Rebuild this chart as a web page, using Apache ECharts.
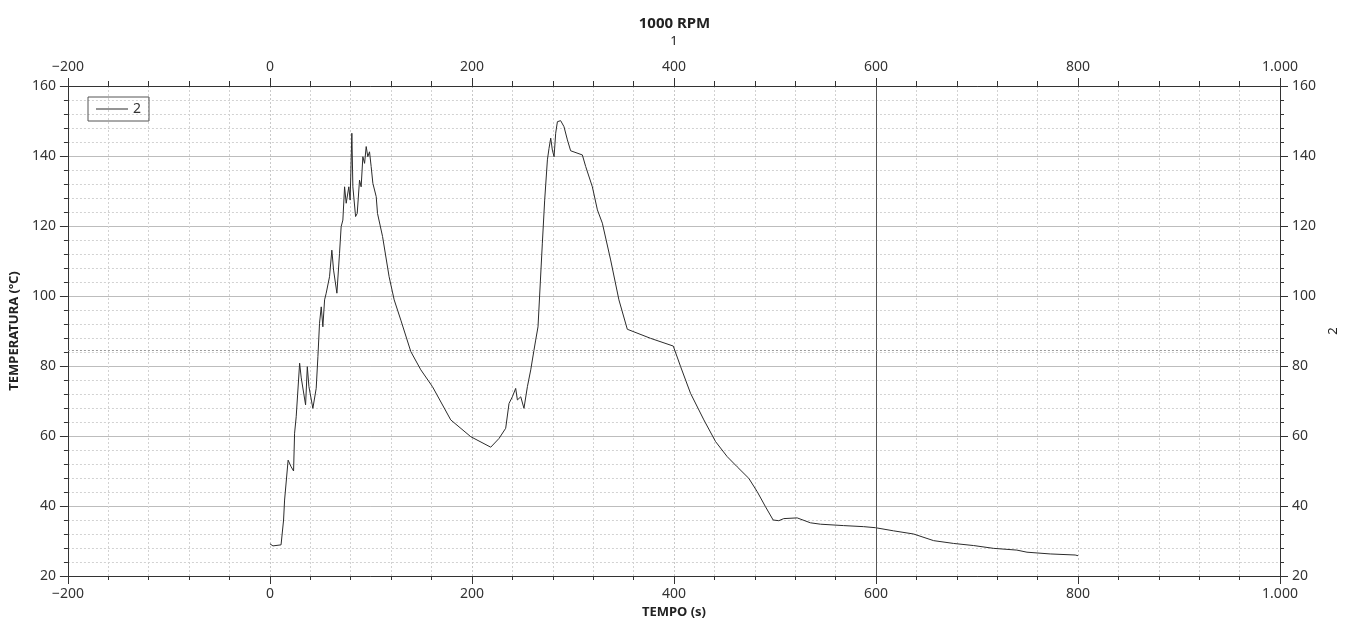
<!DOCTYPE html>
<html>
<head>
<meta charset="utf-8">
<title>1000 RPM</title>
<script src="https://cdn.jsdelivr.net/npm/echarts@6/dist/echarts.min.js"></script>
<style>
  html, body { margin: 0; padding: 0; background: #fff; }
  #main { width: 1349px; height: 627px; }
</style>
</head>
<body>
<div id="main"></div>
<script>
// tempo (s) and temperatura (ºC)
var tempo = [0, 3, 11, 13.5, 14.5, 18, 21, 23.4, 24.4, 26, 29.4, 31, 32.6, 35.3, 37, 38.6, 42.5, 44.2, 45.8, 47.5,
  49.1, 50.8, 52.4, 54.1, 55.7, 59, 61.3, 63, 66.3, 68.9, 70.5, 72.2, 73.9, 75.5, 78.1, 79.4, 81.1, 82.1, 84.8,
  86.4, 88.7, 90.3, 92, 93.7, 95.3, 96.9, 98.6, 100.2, 101.9, 105.2, 106.5, 111.5, 118, 123, 129.6, 139.5, 149.4,
  160.9, 179, 198.8, 218.6, 226.8, 233.4, 236.7, 240, 243.3, 245, 248.3, 251.5, 254.9, 258.2, 261.4, 263.1, 265.4,
  269.7, 272, 274.7, 276.3, 278, 279.6, 281.3, 282.9, 284.6, 287.8, 291.1, 294.5, 297.7, 309.3, 312.6, 319.2,
  324.2, 329.1, 337.3, 345.5, 353.8, 376.9, 399.3, 406.6, 416.4, 429.6, 441.2, 452.7, 462.6, 474.1, 482.4, 490.6,
  498.2, 503.8, 508.7, 522, 535.1, 545, 568, 587.8, 599.4, 617.5, 637.3, 657.1, 676.9, 696.7, 716.4, 739.5, 749.5,
  772.5, 797.2, 800];
var temperatura = [29.2, 28.6, 28.9, 36, 41.7, 53.1, 51.2, 50, 60.8, 65.5, 80.8, 76.6, 77, 68.9, 79.8, 74.1, 67.9, 67.6, 73.6, 82.7,
  92.2, 96.9, 91.2, 98.9, 100.8, 105.5, 113.1, 107.4, 100.8, 112.2, 119.8, 121.7, 131.2, 126.5, 131.2, 127.4, 146.5, 131.2, 122.7,
  123.6, 133.1, 131.2, 139.8, 137.9, 142.7, 139.8, 141.2, 137, 132.2, 128.4, 123.6, 117, 105.5, 98.9, 93.1, 84.1, 78.9,
  74.1, 64.6, 59.8, 56.8, 59.3, 62.2, 69.3, 71.2, 73.6, 70.3, 71.2, 67.9, 74.1, 78.9, 84.5, 87.4, 91.2,
  115.1, 127.4, 138.9, 142.2, 145.1, 141.7, 139.8, 146.5, 149.8, 150.1, 148.4, 144.6, 141.5, 140.3, 137, 131.2,
  124.6, 120.8, 110.3, 98.9, 90.5, 87.9, 85.7, 79.8, 72.2, 64.6, 58.4, 54.1, 51.2, 47.9, 44.1, 39.8,
  36, 35.8, 36.4, 36.6, 35.2, 34.8, 34.4, 34.1, 33.8, 32.9, 32, 30.1, 29.3, 28.7, 27.9, 27.4, 26.8,
  26.3, 26, 25.8];
var cursorX = 600;
var cursorY = 84.5;

var seriesData = tempo.map(function (t, i) { return [t, temperatura[i]]; });

var labelFont = { color: '#333', fontSize: 14, fontFamily: 'Noto Sans' };
var nameFont = { color: '#222', fontSize: 13, fontWeight: 'bold', fontFamily: 'Noto Sans' };

function fmt(v) {
  var s = String(Math.abs(v)).replace(/\B(?=(\d{3})+(?!\d))/g, '.');
  return v < 0 ? '\u2212' + s : s;
}

var axisLine = { onZero: false, lineStyle: { color: '#333', width: 1 } };

var myChart = echarts.init(document.getElementById('main'));
myChart.setOption({
  animation: false,
  title: {
    text: '1000 RPM',
    left: 'center',
    top: 11,
    textStyle: { fontSize: 15, fontWeight: 'bold', color: '#222', fontFamily: 'Noto Sans' }
  },
  legend: {
    left: 88,
    top: 97,
    padding: [5, 8],
    borderColor: '#555',
    borderWidth: 1,
    borderRadius: 0,
    itemWidth: 32,
    itemHeight: 1,
    icon: 'rect',
    textStyle: labelFont,
    data: ['2']
  },
  grid: { left: 67, right: 69, top: 86, bottom: 51 },
  xAxis: [
    {
      type: 'value',
      position: 'bottom',
      min: -200, max: 1000, interval: 200,
      name: 'TEMPO (s)',
      nameLocation: 'middle',
      nameGap: 30,
      nameTextStyle: nameFont,
      axisLine: axisLine,
      axisTick: { length: 8, lineStyle: { color: '#333' } },
      minorTick: { show: true, splitNumber: 5, length: 4, lineStyle: { color: '#333' } },
      axisLabel: Object.assign({ formatter: fmt, margin: 11 }, labelFont),
      splitLine: { show: true, lineStyle: { color: '#c8c8c8', type: [2, 2] } },
      minorSplitLine: { show: true, lineStyle: { color: '#d2d2d2', type: [2, 2] } }
    },
    {
      type: 'value',
      position: 'top',
      min: -200, max: 1000, interval: 200,
      name: '1',
      nameLocation: 'middle',
      nameGap: 38,
      nameTextStyle: { color: '#222', fontSize: 13, fontFamily: 'Noto Sans' },
      axisLine: axisLine,
      axisTick: { length: 8, lineStyle: { color: '#333' } },
      minorTick: { show: true, splitNumber: 5, length: 5, lineStyle: { color: '#333' } },
      axisLabel: Object.assign({ formatter: fmt, margin: 12 }, labelFont),
      splitLine: { show: false }
    }
  ],
  yAxis: [
    {
      type: 'value',
      position: 'left',
      min: 20, max: 160, interval: 20,
      name: 'TEMPERATURA (ºC)',
      nameLocation: 'middle',
      nameGap: 44,
      nameTextStyle: nameFont,
      axisLine: axisLine,
      axisTick: { length: 8, lineStyle: { color: '#333' } },
      minorTick: { show: true, splitNumber: 5, length: 4, lineStyle: { color: '#333' } },
      axisLabel: Object.assign({ margin: 12 }, labelFont),
      splitLine: { show: true, lineStyle: { color: '#bdbdbd', type: 'solid' } },
      minorSplitLine: { show: true, lineStyle: { color: '#d2d2d2', type: [2, 2] } }
    },
    {
      type: 'value',
      position: 'right',
      min: 20, max: 160, interval: 20,
      name: '2',
      nameLocation: 'middle',
      nameGap: 45,
      nameRotate: 90,
      nameTextStyle: { color: '#222', fontSize: 13, fontFamily: 'Noto Sans' },
      axisLine: axisLine,
      axisTick: { length: 8, lineStyle: { color: '#333' } },
      minorTick: { show: true, splitNumber: 5, length: 4, lineStyle: { color: '#333' } },
      axisLabel: Object.assign({ margin: 12 }, labelFont),
      splitLine: { show: false }
    }
  ],
  series: [
    {
      name: '2',
      type: 'line',
      xAxisIndex: 0,
      yAxisIndex: 0,
      symbol: 'none',
      lineStyle: { color: '#2b2b2b', width: 1 },
      itemStyle: { color: '#2b2b2b' },
      data: seriesData,
      markLine: {
        silent: true,
        symbol: 'none',
        label: { show: false },
        data: [
          { xAxis: cursorX, lineStyle: { color: '#555', width: 1, type: 'solid' } },
          { yAxis: cursorY, lineStyle: { color: '#999', width: 1, type: [2, 2] } }
        ]
      }
    }
  ]
});
</script>
</body>
</html>
